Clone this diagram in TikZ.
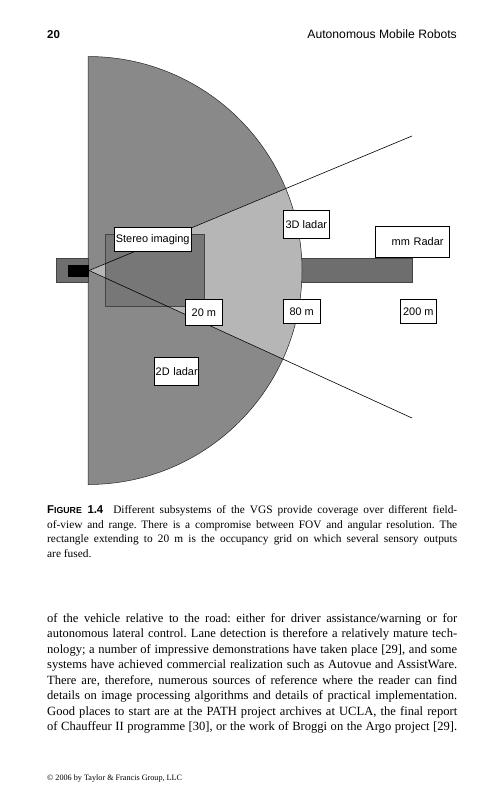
\documentclass[tikz,border=0pt]{standalone}
\usepackage{fontspec}
\setmainfont{Liberation Serif}
\setsansfont{Liberation Sans}
\definecolor{diskgray}{HTML}{898989}
\definecolor{wedgegray}{HTML}{B6B6B6}
\definecolor{gridgray}{HTML}{777777}
\definecolor{bargray}{HTML}{6E6E6E}
\definecolor{edgegray}{HTML}{444444}
\newcommand\jl[1]{\hbox to 410bp{#1}}
\frenchspacing
\begin{document}
\begin{tikzpicture}[x=1bp,y=-1bp,
  lbl/.style 2 args={draw=black, line width=0.5pt, fill=white, inner sep=0pt,
    font=\sffamily\fontsize{11}{12}\selectfont, minimum width=#1bp, minimum height=#2bp},
  ray/.style={draw=black, line width=0.6pt},
  bar/.style={fill=bargray, draw=edgegray, line width=0.5pt},
  txt/.style={inner sep=0pt, anchor=base west}]
\useasboundingbox[fill=white] (0,0) rectangle (504,800);
% header
\node[txt, font=\sffamily\bfseries\fontsize{11.5}{13}\selectfont] (pagenum) at (47,39) {20};
\node[inner sep=0pt, anchor=base east, font=\sffamily\fontsize{12.2}{14}\selectfont] (title) at (457,39) {Autonomous Mobile Robots};
% radar bar (behind disc)
\draw[bar] (290,258.3) rectangle (412.3,282.7);
% 2D ladar half disc
\coordinate (ctr) at (88,270.5);
\fill[diskgray] (88,56.5) arc[start angle=90, end angle=-90, radius=214bp] -- cycle;
% 3D ladar wedge
\fill[wedgegray] (ctr) -- ++(22.6:214bp) arc[start angle=22.6, end angle=-24.5, radius=214bp] -- cycle;
\draw[black!85, line width=0.5pt] (88,56.5) arc[start angle=90, end angle=-90, radius=214bp] -- cycle;
% vehicle
\draw[bar] (56,258.3) rectangle (88,282.3);
\fill[black] (68,265) rectangle (89,276.7);
% occupancy grid
\draw[fill=gridgray, draw=edgegray, line width=0.6pt] (105,234.3) rectangle (204,306.7);
% stereo rays
\coordinate (apex) at (89,270.5);
\coordinate (upEnd) at (412,136);
\coordinate (loEnd) at (412,418);
\draw[ray] (apex) -- (upEnd);
\draw[ray] (apex) -- (loEnd);
% labels
\node[lbl={76.7}{24}] (stereo) at (152.7,239.7) {Stereo imaging};
\node[lbl={46}{28.3}] (ladar3) at (306.3,224.2) {3D ladar};
\node[lbl={73.6}{31.3}, text width=62bp, align=right] (radar) at (412.5,241.7) {mm Radar};
\node[lbl={36.7}{26}] (m20) at (203.9,312.3) {20 m};
\node[lbl={36.7}{24.2}] (m80) at (301.7,311.4) {80 m};
\node[lbl={36.7}{24.2}] (m200) at (418.3,311.4) {200 m};
\node[lbl={44.3}{27.7}, text width=43bp, align=right] (ladar2) at (176.2,371.2) {2D ladar};
% caption
\node[txt, font=\fontsize{11.4}{14.6}\selectfont] (caption) at (47,513.5) {\vtop{%
\jl{{\sffamily\bfseries F{\fontsize{8.8}{10}\selectfont IGURE} 1.4}\hskip 10bp Different subsystems of the VGS provide coverage over different field-}%
\jl{of-view and range. There is a compromise between FOV and angular resolution. The}%
\jl{rectangle extending to 20 m is the occupancy grid on which several sensory outputs}%
\hbox{are fused.}}};
% body text
\node[txt, font=\fontsize{12.6}{15.6}\selectfont] (body) at (47,622) {\vtop{%
\jl{of the vehicle relative to the road: either for driver assistance/warning or for}%
\jl{autonomous lateral control. Lane detection is therefore a relatively mature tech-}%
\jl{nology; a number of impressive demonstrations have taken place [29], and some}%
\jl{systems have achieved commercial realization such as Autovue and AssistWare.}%
\jl{There are, therefore, numerous sources of reference where the reader can find}%
\jl{details on image processing algorithms and details of practical implementation.}%
\jl{Good places to start are at the PATH project archives at UCLA, the final report}%
\jl{of Chauffeur II programme [30], or the work of Broggi on the Argo project [29].}}};
% footer
\node[txt, font=\fontsize{8.2}{10}\selectfont] (footer) at (47,780.5) {\textcopyright{} 2006 by Taylor \& Francis Group, LLC};
\end{tikzpicture}
\end{document}
